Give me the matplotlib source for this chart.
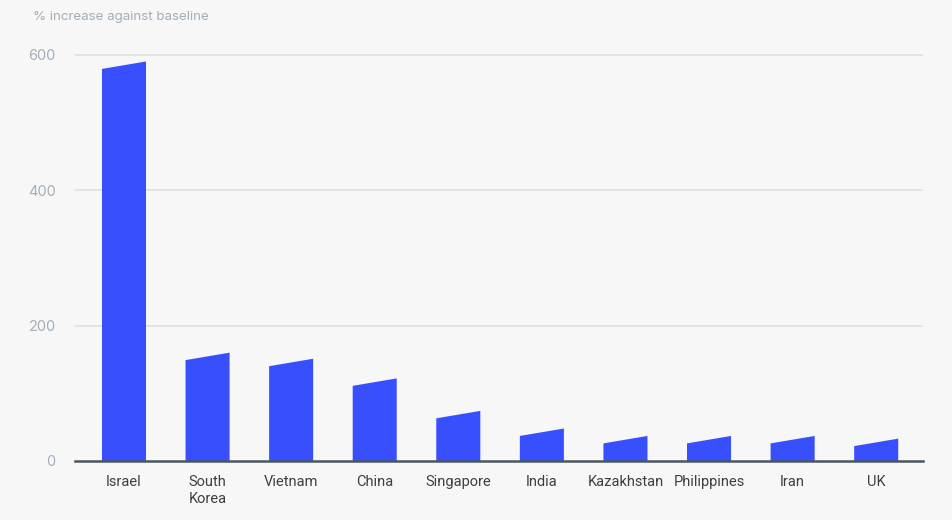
import matplotlib
matplotlib.use("Agg")
import matplotlib.pyplot as plt
from matplotlib.patches import Polygon

countries = ["Israel", "South\nKorea", "Vietnam", "China", "Singapore", "India",
             "Kazakhstan", "Philippines", "Iran", "UK"]
values = [590, 160, 151, 122, 74, 48, 37, 37, 37, 33]
yticks = [0, 200, 400, 600]
ylabel_text = "% increase against baseline"

BAR_COLOR = "#384ffe"
BG = "#f7f7f7"
SLANT = 11
WIDTH = 0.527

fig = plt.figure(figsize=(9.52, 5.2), dpi=100, facecolor=BG)
ax = fig.add_axes([75/952, 59/520, (923-75)/952, 430/520], facecolor=BG)

for i, v in enumerate(values):
    x0, x1 = i - WIDTH/2, i + WIDTH/2
    poly = Polygon([(x0, 0), (x1, 0), (x1, v), (x0, v - SLANT)], closed=True,
                   facecolor=BAR_COLOR, edgecolor="none", zorder=3)
    ax.add_patch(poly)

ax.set_xlim(-0.586, 9.56)
ax.set_ylim(0, 635)
ax.set_yticks(yticks)
ax.set_yticklabels([str(t) for t in yticks], fontfamily="Inter", fontsize=10.5, color="#a3aeb9")
ax.set_xticks(range(len(countries)))
ax.set_xticklabels(countries, fontfamily="Roboto", fontsize=10.5, color="#3c4043", linespacing=1.3)
ax.tick_params(axis="x", length=0, pad=10)
ax.tick_params(axis="y", length=0, pad=14)
for y in yticks[1:]:
    ax.axhline(y, color="#dedfe0", lw=1.2, zorder=1)
for s in ["top", "right", "left"]:
    ax.spines[s].set_visible(False)
ax.spines["bottom"].set_color("#4a5660")
ax.spines["bottom"].set_linewidth(1.8)
ax.spines["bottom"].set_zorder(4)

fig.text(33/952, 1 - 17/520, ylabel_text, fontfamily="Inter", fontsize=9.6,
         color="#a3aeb9", va="center", ha="left")

fig.savefig("out.png", dpi=100, facecolor=BG)
